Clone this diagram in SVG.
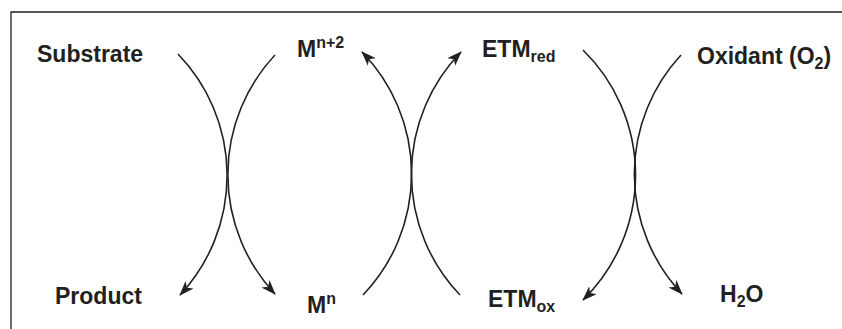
<svg xmlns="http://www.w3.org/2000/svg" width="842" height="329" viewBox="0 0 842 329">
<style>
  .lbl { font-family: "Liberation Sans", Arial, sans-serif; font-weight: bold; font-size: 23px; fill: #231f20; }
  .sm { font-size: 16px; }
  .frame { stroke: #231f20; stroke-width: 1.3; fill: none; }
  .arc { stroke: #231f20; stroke-width: 1.6; fill: none; }
</style>
<defs>
  <marker id="ah" viewBox="0 0 15 11" refX="14" refY="5.5" markerWidth="15" markerHeight="11" markerUnits="userSpaceOnUse" orient="auto">
    <path d="M0,0 L15,5.5 L0,11 L4,5.5 z" fill="#231f20"/>
  </marker>
</defs>
<path class="frame" d="M11,329 L11,12 L842,12"/>
<g id="connectors">
  <path class="arc" d="M178,54 A175,175 0 0 1 180,295" marker-end="url(#ah)"/>
  <path class="arc" d="M275,55 A175,175 0 0 0 275,294" marker-end="url(#ah)"/>
  <path class="arc" d="M363,295 A175,175 0 0 0 362,52" marker-end="url(#ah)"/>
  <path class="arc" d="M460,295 A175,175 0 0 1 461,52" marker-end="url(#ah)"/>
  <path class="arc" d="M583,50 A175,175 0 0 1 583,300" marker-end="url(#ah)"/>
  <path class="arc" d="M681,55 A175,175 0 0 0 682,294" marker-end="url(#ah)"/>
</g>
<g id="substrate"><text class="lbl" x="37" y="62">Substrate</text></g>
<g id="product"><text class="lbl" x="55" y="304">Product</text></g>
<g id="m-n2"><text class="lbl" x="297" y="57">M<tspan class="sm" dy="-9">n+2</tspan></text></g>
<g id="m-n"><text class="lbl" x="307" y="313">M<tspan class="sm" dy="-9">n</tspan></text></g>
<g id="etm-red"><text class="lbl" x="482" y="57">ETM<tspan class="sm" dy="5">red</tspan></text></g>
<g id="etm-ox"><text class="lbl" x="488" y="307">ETM<tspan class="sm" dy="5">ox</tspan></text></g>
<g id="oxidant"><text class="lbl" x="697" y="64">Oxidant (O<tspan class="sm" dy="5">2</tspan><tspan dy="-5">)</tspan></text></g>
<g id="h2o"><text class="lbl" x="720" y="302">H<tspan class="sm" dy="5">2</tspan><tspan dy="-5">O</tspan></text></g>
</svg>
